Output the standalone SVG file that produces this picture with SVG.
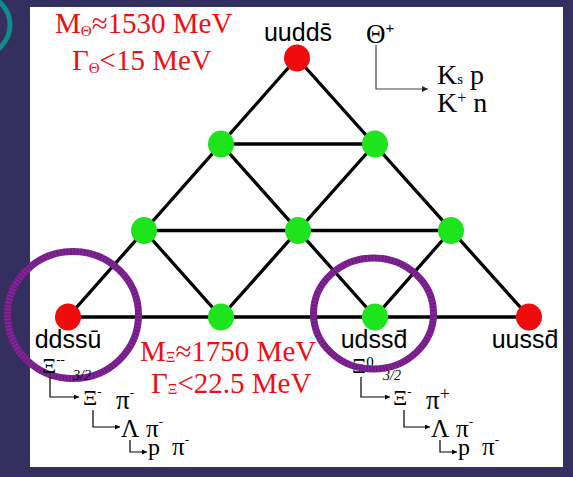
<svg xmlns="http://www.w3.org/2000/svg" width="573" height="477" viewBox="0 0 573 477">
<defs>
<style>
.edge{stroke:#000;stroke-width:3.3;fill:none;stroke-linecap:round}
.red{fill:#f00c0c}
.green{fill:#1de41d}
.lbl{font-family:"Liberation Sans",Arial,sans-serif;font-size:25px;fill:#000;text-anchor:middle}
.rt{font-family:"Liberation Serif","Times New Roman",serif;font-size:29px;fill:#ec1015}
.ser{font-family:"Liberation Serif","Times New Roman",serif;fill:#000}
.arr{stroke:#000;stroke-width:1.2;fill:none}
.ring{fill:none;stroke:#761a89;stroke-width:7}
.ringtex{fill:none;stroke:#a45cb4;stroke-width:7;stroke-dasharray:1 2.4;opacity:0.35}
</style>
<marker id="ah" viewBox="0 0 10 10" refX="10" refY="5" markerWidth="5" markerHeight="5" orient="auto" markerUnits="userSpaceOnUse"><path d="M0,0 L10,5 L0,10 z" fill="#000"/></marker>
<marker id="ahg" viewBox="0 0 10 10" refX="10" refY="5" markerWidth="6" markerHeight="6" orient="auto" markerUnits="userSpaceOnUse"><path d="M0,0 L10,5 L0,10 z" fill="#222"/></marker>
</defs>
<rect x="0" y="0" width="573" height="477" fill="#33305f"/>
<circle cx="-20" cy="25" r="30" fill="none" stroke="#0d8c88" stroke-width="5"/>
<rect x="30" y="7" width="533" height="460" fill="#ffffff"/>

<g id="connectors">
<line class="edge" x1="297" y1="58" x2="68" y2="317"/>
<line class="edge" x1="297" y1="58" x2="529" y2="317"/>
<line class="edge" x1="68" y1="317" x2="529" y2="317"/>
<line class="edge" x1="221" y1="144" x2="375" y2="144"/>
<line class="edge" x1="144" y1="230.5" x2="451" y2="230.5"/>
<line class="edge" x1="221" y1="144" x2="375" y2="317"/>
<line class="edge" x1="375" y1="144" x2="221" y2="317"/>
<line class="edge" x1="144" y1="230.5" x2="221" y2="317"/>
<line class="edge" x1="451" y1="230.5" x2="375" y2="317"/>
</g>

<g id="n-uudds"><ellipse class="red" cx="297" cy="58" rx="13" ry="13.5"/><text class="lbl" x="298" y="41">uudds̄</text></g>
<g id="n-b1"><ellipse class="green" cx="221" cy="144" rx="13" ry="13.5"/></g>
<g id="n-b2"><ellipse class="green" cx="375" cy="144" rx="13" ry="13.5"/></g>
<g id="n-c1"><ellipse class="green" cx="144" cy="230.5" rx="13" ry="13.5"/></g>
<g id="n-c2"><ellipse class="green" cx="298" cy="230.5" rx="13" ry="13.5"/></g>
<g id="n-c3"><ellipse class="green" cx="451" cy="230.5" rx="13" ry="13.5"/></g>
<g id="n-ddssu"><ellipse class="red" cx="68" cy="317" rx="13" ry="13.5"/><text class="lbl" x="68" y="348">ddssū</text></g>
<g id="n-d2"><ellipse class="green" cx="221" cy="317" rx="13" ry="13.5"/></g>
<g id="n-udssd"><ellipse class="green" cx="375" cy="317" rx="13" ry="13.5"/><text class="lbl" x="374" y="348">udssd̄</text></g>
<g id="n-uussd"><ellipse class="red" cx="529" cy="317" rx="13" ry="13.5"/><text class="lbl" x="525" y="348">uussd̄</text></g>

<g id="left-ring">
<ellipse class="ring" cx="73" cy="315" rx="65.5" ry="63.5"/>
<ellipse class="ringtex" cx="73" cy="315" rx="65.5" ry="63.5"/>
</g>

<g id="theta-info">
<text class="rt" x="55" y="33">M<tspan font-size="15" dy="3">Θ</tspan><tspan dy="-3">≈1530 MeV</tspan></text>
<text class="rt" x="72" y="70">Γ<tspan font-size="15" dy="3">Θ</tspan><tspan dy="-3">&lt;15 MeV</tspan></text>
</g>
<g id="xi-info">
<text class="rt" x="140" y="361">M<tspan font-size="15" dy="1">Ξ</tspan><tspan dy="-1">≈1750 MeV</tspan></text>
<text class="rt" x="151" y="393">Γ<tspan font-size="15" dy="1">Ξ</tspan><tspan dy="-1">&lt;22.5 MeV</tspan></text>
</g>

<g id="theta-decay">
<text class="ser" x="366" y="43" font-size="27">Θ<tspan font-family="Liberation Sans,Arial,sans-serif" font-size="15" dy="-10">+</tspan></text>
<path d="M376,45 V89 H428" stroke="#444" stroke-width="1.2" fill="none" marker-end="url(#ahg)"/>
<text class="ser" x="437" y="84" font-size="28">K<tspan font-size="15">s</tspan> p</text>
<text class="ser" x="437" y="112" font-size="28">K<tspan font-size="16" dy="-9">+</tspan><tspan dy="9"> n</tspan></text>
</g>

<g id="xi-minus-decay">
<text class="ser" x="42" y="373" font-size="22">Ξ<tspan font-size="13" dy="-9">--</tspan></text>
<text class="ser" x="73" y="380" font-size="14" font-style="italic">3/2</text>
<path class="arr" d="M50,377 V397 H79" marker-end="url(#ah)"/>
<text class="ser" x="83" y="405" font-size="22">Ξ<tspan font-size="13" dy="-9">-</tspan></text>
<text class="ser" x="116" y="409" font-size="27">π<tspan font-size="13" dy="-12">-</tspan></text>
<path class="arr" d="M93,410 V427 H120" marker-end="url(#ah)"/>
<text class="ser" x="121" y="437" font-size="25">Λ</text>
<text class="ser" x="146" y="437" font-size="25">π<tspan font-size="13" dy="-11">-</tspan></text>
<path class="arr" d="M130,440 V452 H147" marker-end="url(#ah)"/>
<text class="ser" x="148" y="455" font-size="24">p</text>
<text class="ser" x="172" y="455" font-size="25">π<tspan font-size="13" dy="-11">-</tspan></text>
</g>

<g id="xi-zero-decay">
<text class="ser" x="352" y="373" font-size="22">Ξ<tspan font-size="15" dy="-6">0</tspan></text>
<text class="ser" x="383" y="380" font-size="14" font-style="italic">3/2</text>
<path class="arr" d="M361,377 V397 H390" marker-end="url(#ah)"/>
<text class="ser" x="393" y="405" font-size="22">Ξ<tspan font-size="13" dy="-9">-</tspan></text>
<text class="ser" x="426" y="409" font-size="27">π<tspan font-size="18" dy="-9">+</tspan></text>
<path class="arr" d="M404,410 V427 H430" marker-end="url(#ah)"/>
<text class="ser" x="431" y="437" font-size="25">Λ</text>
<text class="ser" x="456" y="437" font-size="25">π<tspan font-size="13" dy="-11">-</tspan></text>
<path class="arr" d="M440,440 V452 H457" marker-end="url(#ah)"/>
<text class="ser" x="458" y="455" font-size="24">p</text>
<text class="ser" x="482" y="455" font-size="25">π<tspan font-size="13" dy="-11">-</tspan></text>
</g>

<g id="right-ring">
<ellipse class="ring" cx="373.5" cy="313.5" rx="60" ry="55.5"/>
<ellipse class="ringtex" cx="373.5" cy="313.5" rx="60" ry="55.5"/>
</g>
</svg>
